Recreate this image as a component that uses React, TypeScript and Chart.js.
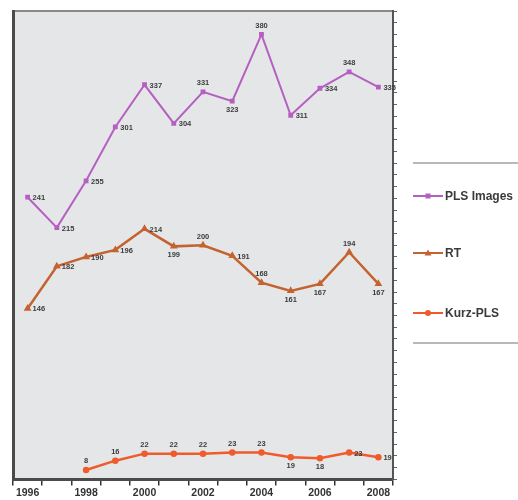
import React, { useEffect, useRef } from "react";
import { Chart, registerables } from "chart.js";

Chart.register(...registerables);

const years = ["1996", "1997", "1998", "1999", "2000", "2001", "2002", "2003", "2004", "2005", "2006", "2007", "2008"];
const plsImages = [241, 215, 255, 301, 337, 304, 331, 323, 380, 311, 334, 348, 335];
const rt = [146, 182, 190, 196, 214, 199, 200, 191, 168, 161, 167, 194, 167];
const kurzPls = [null, null, 8, 16, 22, 22, 22, 23, 23, 19, 18, 23, 19];

const plsLabelPos = ["r", "r", "r", "r", "r", "r", "a", "b", "a", "r", "r", "a", "r"];
const rtLabelPos = ["r", "r", "r", "r", "r", "b", "a", "r", "a", "b", "b", "a", "b"];
const kurzLabelPos = ["a", "a", "a", "a", "a", "a", "a", "a", "a", "b", "b", "r", "r"];

const FONT = "'Liberation Sans', Arial, sans-serif";

const bgPlugin = {
  id: "bgPlugin",
  beforeDraw(chart: any) {
    const { ctx, chartArea: a } = chart;
    ctx.save();
    ctx.fillStyle = "#e5e6e8";
    ctx.fillRect(a.left, a.top, a.right - a.left, a.bottom - a.top);
    ctx.strokeStyle = "#8a8a8a";
    ctx.lineWidth = 2;
    ctx.beginPath();
    ctx.moveTo(a.left, a.top);
    ctx.lineTo(a.right, a.top);
    ctx.stroke();
    ctx.restore();
  },
};

const labelPlugin = {
  id: "labelPlugin",
  afterDatasetsDraw(chart: any) {
    const { ctx } = chart;
    ctx.save();
    ctx.font = `bold 7.5px ${FONT}`;
    ctx.fillStyle = "#3d3d3d";
    chart.data.datasets.forEach((ds: any, di: number) => {
      const meta = chart.getDatasetMeta(di);
      meta.data.forEach((pt: any, i: number) => {
        const v = ds.data[i];
        if (v === null || v === undefined) return;
        const pos = ds.labelPos[i];
        let x = pt.x;
        let y = pt.y;
        if (pos === "r") {
          ctx.textAlign = "left";
          ctx.textBaseline = "middle";
          x += 5;
          y += 1;
        } else if (pos === "a") {
          ctx.textAlign = "center";
          ctx.textBaseline = "bottom";
          y -= 5;
        } else {
          ctx.textAlign = "center";
          ctx.textBaseline = "top";
          y += 5;
        }
        ctx.fillText(String(v), x, y);
      });
    });
    ctx.restore();
  },
};

const legendPlugin = {
  id: "legendPlugin",
  afterDraw(chart: any) {
    const { ctx } = chart;
    const x0 = 413;
    const rows = [196, 253, 313];
    ctx.save();
    ctx.strokeStyle = "#b8b8b8";
    ctx.lineWidth = 2;
    ctx.beginPath();
    ctx.moveTo(x0, 163);
    ctx.lineTo(518, 163);
    ctx.moveTo(x0, 343);
    ctx.lineTo(518, 343);
    ctx.stroke();
    chart.data.datasets.forEach((ds: any, i: number) => {
      const y = rows[i];
      ctx.strokeStyle = ds.borderColor;
      ctx.lineWidth = 2;
      ctx.beginPath();
      ctx.moveTo(x0, y);
      ctx.lineTo(x0 + 30, y);
      ctx.stroke();
      ctx.fillStyle = ds.borderColor;
      ctx.beginPath();
      if (ds.pointStyle === "triangle") {
        ctx.moveTo(x0 + 15, y - 3.5);
        ctx.lineTo(x0 + 18.5, y + 2.5);
        ctx.lineTo(x0 + 11.5, y + 2.5);
        ctx.closePath();
      } else if (ds.pointStyle === "rect") {
        ctx.rect(x0 + 12.5, y - 2.5, 5, 5);
      } else {
        ctx.arc(x0 + 15, y, 3, 0, Math.PI * 2);
      }
      ctx.fill();
      ctx.fillStyle = "#3a3a3a";
      ctx.font = `bold 12px ${FONT}`;
      ctx.textAlign = "left";
      ctx.textBaseline = "middle";
      ctx.fillText(ds.label, x0 + 32, y + 1);
    });
    ctx.restore();
  },
};

export default function App() {
  const ref = useRef<HTMLCanvasElement>(null);
  useEffect(() => {
    if (!ref.current) return;
    const chart = new Chart(ref.current, {
      type: "line",
      data: {
        labels: years,
        datasets: [
          {
            label: "PLS Images",
            data: plsImages,
            borderColor: "#b65fc2",
            backgroundColor: "#b65fc2",
            borderWidth: 2,
            pointStyle: "rect",
            pointRadius: 2,
            tension: 0,
            labelPos: plsLabelPos,
          } as any,
          {
            label: "RT",
            data: rt,
            borderColor: "#c4632f",
            backgroundColor: "#c4632f",
            borderWidth: 2.5,
            pointStyle: "triangle",
            pointRadius: 2,
            tension: 0,
            labelPos: rtLabelPos,
          } as any,
          {
            label: "Kurz-PLS",
            data: kurzPls,
            borderColor: "#ef5b2b",
            backgroundColor: "#ef5b2b",
            borderWidth: 2.5,
            pointStyle: "circle",
            pointRadius: 2,
            tension: 0,
            spanGaps: false,
            labelPos: kurzLabelPos,
          } as any,
        ],
      },
      options: {
        animation: false,
        responsive: false,
        maintainAspectRatio: false,
        layout: { padding: { top: 11, right: 121, left: 5, bottom: 0 } },
        plugins: { legend: { display: false }, tooltip: { enabled: false } },
        scales: {
          x: {
            offset: true,
            grid: { display: true, drawOnChartArea: false, offset: true, tickLength: 6, color: "#333", lineWidth: 1.5 },
            border: { display: true, color: "#4a4a4a", width: 3 },
            ticks: {
              autoSkip: false,
              maxRotation: 0,
              padding: 1,
              color: "#333",
              font: { family: FONT, size: 10.5, weight: "bold" },
              callback: (_v: any, i: number) => (i % 2 === 0 ? years[i] : ""),
            },
          },
          y: {
            min: 0,
            max: 400,
            position: "left",
            grid: { display: false },
            border: { display: true, color: "#4a4a4a", width: 3 },
            ticks: { display: false },
          },
          y2: {
            min: 0,
            max: 400,
            position: "right",
            grid: { display: true, drawOnChartArea: false, tickLength: 4, color: "#666", lineWidth: 1 },
            border: { display: true, color: "#555", width: 2 },
            ticks: { display: false, stepSize: 10 },
          },
        },
      },
      plugins: [bgPlugin, labelPlugin, legendPlugin],
    });
    return () => chart.destroy();
  }, []);
  return (
    <div style={{ position: "fixed", left: 0, top: 0, width: 518, height: 500, background: "#fff" }}>
      <canvas ref={ref} width={518} height={500} style={{ width: 518, height: 500 }} />
    </div>
  );
}
